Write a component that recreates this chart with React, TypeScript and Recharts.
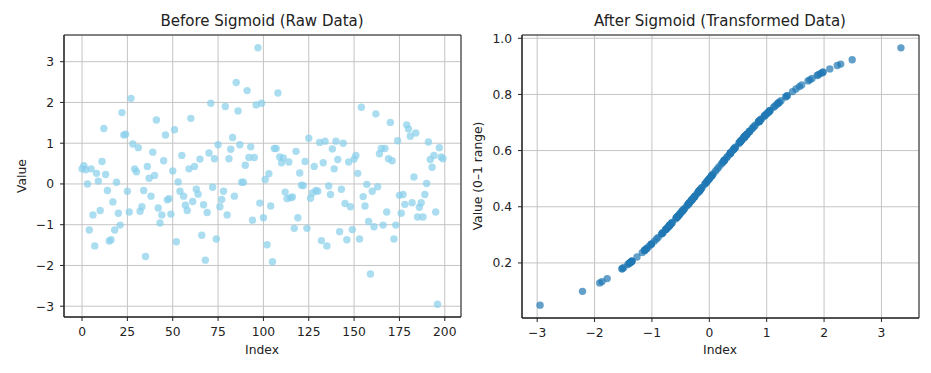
import React from "react"
import {
  ScatterChart,
  Scatter,
  XAxis,
  YAxis,
  CartesianGrid,
  ReferenceArea,
} from "recharts"

// raw values in index order (0..199)
const rawValues: number[] = [
  0.37, 0.45, 0.35, 0.0, -1.13, 0.37, -0.76, -1.52, 0.26, 0.07,
  -0.65, 0.55, 1.36, 0.23, -0.16, -1.4, -1.37, -0.44, -1.13, 0.04,
  -0.72, -1.01, 1.75, 1.2, 1.22, -0.18, -0.69, 2.1, 0.98, 0.37,
  0.3, 0.89, -0.67, -0.56, -0.16, -1.78, 0.43, 0.14, -0.3, 0.78,
  0.21, 1.57, -0.59, -0.96, -0.76, 0.57, 1.2, -0.39, -0.36, -0.74,
  0.32, 1.33, -1.42, 0.05, -0.18, 0.7, -0.3, -0.52, -0.65, 0.37,
  1.61, -0.43, 0.43, -0.13, -0.25, 0.61, -1.26, -0.51, -1.87, -0.7,
  0.76, 1.98, -0.08, 0.62, -1.35, 0.96, -0.56, -0.38, -0.18, 1.9,
  -0.76, 0.62, 0.85, 1.14, -0.3, 2.49, 1.79, 0.96, 0.04, 0.04,
  0.46, 2.29, 0.65, 0.91, -0.89, 0.65, 1.94, 3.34, -0.47, 1.98,
  -0.83, 0.11, -1.49, 0.25, -0.54, -1.91, 0.87, 0.87, 2.23, 0.66,
  0.52, 0.64, -0.2, -0.36, 0.54, -0.34, -0.32, -1.09, 0.8, -0.83,
  0.27, -0.03, -0.04, 0.55, -1.09, 1.12, -0.35, -0.22, 0.43, -0.16,
  -0.18, 1.02, -1.39, 0.52, 1.05, -1.52, -0.05, -0.26, 0.86, 0.37,
  1.05, 0.6, -1.17, -0.13, 1.0, -0.48, -1.37, 0.54, -0.56, -1.12,
  0.61, 0.7, 0.26, -1.35, 1.88, -0.31, -0.54, -0.01, -0.92, -2.21,
  -0.18, -1.05, 1.72, -0.07, 0.74, 0.87, -1.01, 0.87, -0.69, 0.62,
  1.51, 0.57, -1.35, -1.01, 1.06, -0.28, -0.72, -0.26, -0.5, 1.45,
  1.35, 1.17, -0.46, 0.17, 1.25, -0.81, -0.57, -0.46, -0.81, -0.26,
  0.01, 1.03, 0.6, 0.41, 0.7, -0.69, -2.95, 0.89, 0.66, 0.62,
]

const indexTicks = [0, 25, 50, 75, 100, 125, 150, 175, 200]
const valueTicks = [-3, -2, -1, 0, 1, 2, 3]
const rawTicks = [-3, -2, -1, 0, 1, 2, 3]
const probTicks = [0.2, 0.4, 0.6, 0.8, 1.0]

const sigmoid = (v: number) => 1 / (1 + Math.exp(-v))

const rawData = rawValues.map((v, i) => ({ index: i, value: v }))
const sigData = rawValues.map((v) => ({ x: v, y: sigmoid(v) }))

// matplotlib-style 5% margins
function pad(min: number, max: number): [number, number] {
  const m = (max - min) * 0.05
  return [min - m, max + m]
}
const vMin = Math.min(...rawValues)
const vMax = Math.max(...rawValues)
const idxDomain = pad(0, rawValues.length - 1)
const valDomain = pad(vMin, vMax)
const sigDomain = pad(sigmoid(vMin), sigmoid(vMax))

const FONT = "'DejaVu Sans', sans-serif"
const TEXT = "#222"
const SPINE = "#222"
const GRID = "#c4c4c4"
const tick = { fontSize: 12.3, fill: TEXT, fontFamily: FONT }

const minus = (v: number) => (v < 0 ? "\u2212" + Math.abs(v) : String(v))

function dot(color: string) {
  return (p: any) => (
    <circle cx={p.cx} cy={p.cy} r={3.7} fill={color} fillOpacity={0.7} />
  )
}

function Label({ x, y, size, rotate, children }: any) {
  return (
    <div
      style={{
        position: "absolute",
        left: x,
        top: y,
        transform: `translate(-50%, -50%)${rotate ? " rotate(-90deg)" : ""}`,
        whiteSpace: "nowrap",
        fontSize: size,
        color: TEXT,
        fontFamily: FONT,
        lineHeight: 1,
      }}
    >
      {children}
    </div>
  )
}

export default function App() {
  return (
    <div
      style={{
        position: "absolute",
        left: 0,
        top: 0,
        width: 931,
        height: 373,
        background: "#fff",
        overflow: "hidden",
      }}
    >
      <div style={{ position: "absolute", left: 0, top: 0 }}>
        <ScatterChart width={470} height={373} margin={{ top: 35, right: 9, bottom: 16, left: 0 }}>
          <CartesianGrid stroke={GRID} />
          <XAxis
            type="number"
            dataKey="index"
            domain={idxDomain}
            ticks={indexTicks}
            allowDataOverflow
            height={40}
            tickSize={4}
            tickMargin={6}
            tick={tick}
            stroke={SPINE}
          />
          <YAxis
            type="number"
            dataKey="value"
            domain={valDomain}
            ticks={valueTicks}
            allowDataOverflow
            width={64}
            tickSize={4}
            tickMargin={6}
            tick={tick}
            tickFormatter={minus}
            stroke={SPINE}
          />
          <ReferenceArea
            x1={idxDomain[0]}
            x2={idxDomain[1]}
            y1={valDomain[0]}
            y2={valDomain[1]}
            ifOverflow="visible"
            fill="none"
            stroke={SPINE}
            strokeWidth={1}
          />
          <Scatter data={rawData} shape={dot("#87ceeb")} isAnimationActive={false} />
        </ScatterChart>
      </div>

      <div style={{ position: "absolute", left: 470, top: 0 }}>
        <ScatterChart width={461} height={373} margin={{ top: 35, right: 12, bottom: 15, left: 0 }}>
          <CartesianGrid stroke={GRID} />
          <XAxis
            type="number"
            dataKey="x"
            domain={valDomain}
            ticks={rawTicks}
            allowDataOverflow
            height={40}
            tickSize={4}
            tickMargin={6}
            tick={tick}
            tickFormatter={minus}
            stroke={SPINE}
          />
          <YAxis
            type="number"
            dataKey="y"
            domain={sigDomain}
            ticks={probTicks}
            allowDataOverflow
            width={52}
            tickSize={4}
            tickMargin={6}
            tick={tick}
            tickFormatter={(v: number) => v.toFixed(1)}
            stroke={SPINE}
          />
          <ReferenceArea
            x1={valDomain[0]}
            x2={valDomain[1]}
            y1={sigDomain[0]}
            y2={sigDomain[1]}
            ifOverflow="visible"
            fill="none"
            stroke={SPINE}
            strokeWidth={1}
          />
          <Scatter data={sigData} shape={dot("#1f77b4")} isAnimationActive={false} />
        </ScatterChart>
      </div>

      <Label x={262} y={21} size={15}>Before Sigmoid (Raw Data)</Label>
      <Label x={720} y={21} size={15}>After Sigmoid (Transformed Data)</Label>
      <Label x={262} y={350} size={12.3}>Index</Label>
      <Label x={720} y={350} size={12.3}>Index</Label>
      <Label x={22} y={176} size={12.3} rotate>Value</Label>
      <Label x={478} y={176} size={12.3} rotate>Value (0–1 range)</Label>
    </div>
  )
}
